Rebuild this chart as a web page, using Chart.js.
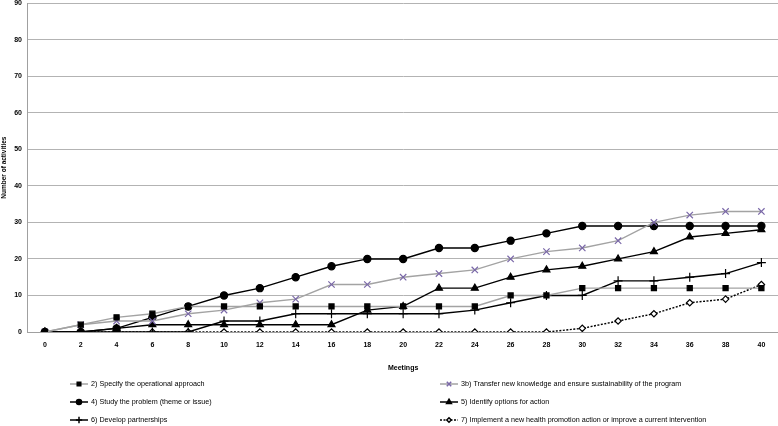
<!DOCTYPE html>
<html>
<head>
<meta charset="utf-8">
<script src="https://cdn.jsdelivr.net/npm/chart.js@4.4.1/dist/chart.umd.min.js"></script>
<style>
  html, body { margin: 0; padding: 0; background: #fff; overflow: hidden; }
  #wrap { width: 778px; height: 426px; position: relative; overflow: hidden; }
  #inner { position: absolute; left: 0; top: -6px; width: 785px; height: 432px; }
</style>
</head>
<body>
<div id="wrap"><div id="inner"><canvas id="activityChart"></canvas></div></div>
<script>
// values
const meetings = ['0','2','4','6','8','10','12','14','16','18','20','22','24','26','28','30','32','34','36','38','40'];
const yTicks = [0, 10, 20, 30, 40, 50, 60, 70, 80, 90];

const specifyApproach = [0,2,4,5,7,7,7,7,7,7,7,7,7,10,10,12,12,12,12,12,12];
const transferKnowledge = [0,2,3,3,5,6,8,9,13,13,15,16,17,20,22,23,25,30,32,33,33];
const studyProblem = [0,0,1,4,7,10,12,15,18,20,20,23,23,25,27,29,29,29,29,29,29];
const identifyOptions = [0,0,1,2,2,2,2,2,2,6,7,12,12,15,17,18,20,22,26,27,28];
const developPartnerships = [0,0,0,0,0,3,3,5,5,5,5,5,6,8,10,10,14,14,15,16,19];
const implementAction = [0,0,0,0,0,0,0,0,0,0,0,0,0,0,0,1,3,5,8,9,13];

const labels = [
    '2) Specify the operational approach',
    '3b) Transfer new knowledge and ensure sustainability of the program',
    '4) Study the problem (theme or issue)',
    '5) Identify options for action',
    '6) Develop partnerships',
    '7) Implement a new health promotion action or improve a current intervention'
];

const GRAY = '#a3a3a3';
const PURPLE = '#7a68a8';
const FONT = 'Liberation Sans, Arial, sans-serif';

// legend drawn on the canvas in two columns, like the original
// (canvas is shifted up 6px, so rows are in canvas coords)
const legendPlugin = {
    id: 'twoColLegend',
    afterDraw(chart) {
        const ctx = chart.ctx;
        const cols = [70, 440];
        const rows = [390, 408, 426];
        chart.data.datasets.forEach((ds, i) => {
            const x = cols[i % 2];
            const y = rows[Math.floor(i / 2)];
            ctx.save();
            ctx.strokeStyle = ds.borderColor;
            ctx.lineWidth = 1.5;
            ctx.setLineDash(ds.borderDash || []);
            ctx.beginPath();
            ctx.moveTo(x, y);
            ctx.lineTo(x + 18, y);
            ctx.stroke();
            ctx.setLineDash([]);
            ctx.fillStyle = ds.pointBackgroundColor;
            ctx.strokeStyle = ds.pointBorderColor;
            Chart.helpers.drawPoint(ctx, {
                pointStyle: ds.pointStyle,
                radius: ds.pointRadius * 0.7,
                borderWidth: ds.pointBorderWidth,
                rotation: 0
            }, x + 9, y);
            ctx.fillStyle = '#000';
            ctx.font = '7.2px ' + FONT;
            ctx.textBaseline = 'middle';
            ctx.textAlign = 'left';
            ctx.fillText(ds.label, x + 21, y);
            ctx.restore();
        });
    }
};

function series(label, data, line, style, fill, stroke, radius, dash) {
    return {
        label: label,
        data: data,
        borderColor: line,
        borderWidth: 1.4,
        borderDash: dash || [],
        pointStyle: style,
        pointRadius: radius,
        pointHoverRadius: radius,
        pointBackgroundColor: fill,
        pointBorderColor: stroke,
        pointBorderWidth: 1.2,
        tension: 0,
        fill: false
    };
}

const ctx = document.getElementById('activityChart').getContext('2d');
const activityChart = new Chart(ctx, {
    type: 'line',
    data: {
        labels: meetings,
        datasets: [
            series(labels[0], specifyApproach, GRAY, 'rect', '#000', '#000', 3.6),
            series(labels[1], transferKnowledge, GRAY, 'crossRot', PURPLE, PURPLE, 4.5),
            series(labels[2], studyProblem, '#000', 'circle', '#000', '#000', 3.6),
            series(labels[3], identifyOptions, '#000', 'triangle', '#000', '#000', 4),
            series(labels[4], developPartnerships, '#000', 'cross', '#000', '#000', 4.5),
            series(labels[5], implementAction, '#000', 'rectRot', '#fff', '#000', 3.2, [2, 1.5])
        ]
    },
    options: {
        responsive: true,
        maintainAspectRatio: false,
        animation: false,
        layout: {
            padding: { top: 0, right: 0, bottom: 54, left: 0 }
        },
        plugins: {
            legend: { display: false },
            tooltip: { enabled: false }
        },
        scales: {
            x: {
                type: 'category',
                offset: true,
                grid: { display: false, drawTicks: false },
                border: { display: true, color: '#a0a0a0' },
                ticks: {
                    color: '#000',
                    padding: 9,
                    maxRotation: 0,
                    autoSkip: false,
                    font: { family: FONT, size: 7, weight: 'bold' }
                },
                title: {
                    display: true,
                    text: 'Meetings',
                    color: '#000',
                    padding: { top: 8, bottom: 0 },
                    font: { family: FONT, size: 7, weight: 'bold' }
                },
                afterFit(scale) { scale.height = 40; }
            },
            y: {
                min: 0,
                max: 90,
                afterBuildTicks(scale) {
                    scale.ticks = yTicks.map(v => ({ value: v }));
                },
                grid: { color: '#b3b3b3', lineWidth: 1, drawTicks: false },
                border: { display: true, color: '#a0a0a0' },
                ticks: {
                    color: '#000',
                    padding: 5,
                    font: { family: FONT, size: 7, weight: 'bold' }
                },
                title: {
                    display: true,
                    text: 'Number of activities',
                    color: '#000',
                    padding: { top: 0, bottom: 0 },
                    font: { family: FONT, size: 6.5, weight: 'bold' }
                },
                afterFit(scale) { scale.width = 27; }
            }
        }
    },
    plugins: [legendPlugin]
});
</script>
</body>
</html>
